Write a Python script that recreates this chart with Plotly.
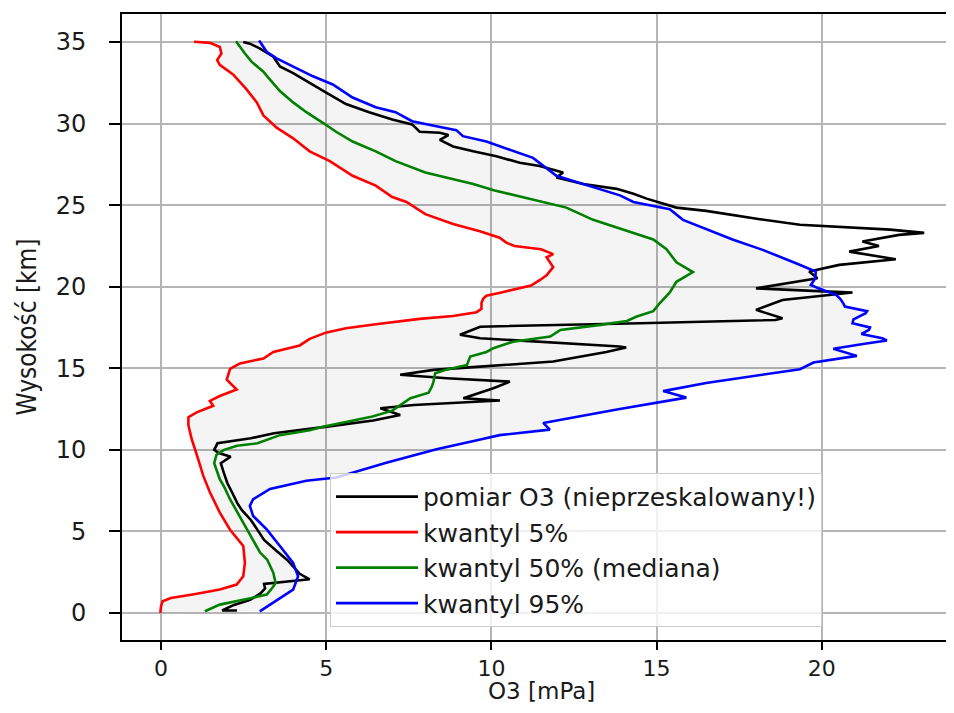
import plotly.graph_objects as go

# ---- data ----
# 5% quantile (x = O3 [mPa], y = altitude [km])
q05_x = [-0.02, 0.0, 0.05, 0.3, 1.0, 1.78, 2.29, 2.49, 2.54, 2.49, 2.09, 1.78, 1.48, 1.28, 1.13,
         0.93, 0.83, 0.83, 1.08, 1.58, 1.48, 1.78, 2.29, 1.99, 2.09, 2.39, 3.1, 3.4, 4.2, 4.5,
         5.01, 5.6, 6.5, 7.83, 8.84, 9.55, 9.7, 9.7, 9.75, 9.85, 10.3, 10.76, 11.2, 11.46, 11.67,
         11.87, 11.67, 11.87, 11.5, 10.7, 10.45, 10.25, 9.65, 8.84, 8.0, 7.43, 7.0, 6.5, 5.8, 5.11,
         4.5, 4.0, 3.5, 3.1, 2.9, 2.59, 2.19, 1.78, 1.70, 1.83, 1.78, 1.48, 1.0]
q05_y = [0.0, 0.4, 0.72, 0.92, 1.15, 1.43, 1.74, 2.25, 3.07, 4.1, 5.1, 6.15, 7.4, 8.4, 9.4,
         10.65, 11.5, 12.0, 12.3, 12.7, 13.0, 13.3, 13.7, 14.3, 14.96, 15.3, 15.6, 16.0, 16.4, 16.8,
         17.2, 17.45, 17.7, 18.03, 18.2, 18.44, 18.65, 19.0, 19.26, 19.45, 19.65, 19.85, 20.07, 20.4, 20.7,
         21.2, 21.8, 22.0, 22.3, 22.5, 22.7, 23.0, 23.4, 23.85, 24.45, 25.2, 25.5, 26.2, 26.8, 27.7,
         28.3, 29.1, 29.75, 30.5, 31.3, 32.1, 33.0, 33.6, 33.9, 34.3, 34.7, 34.95, 35.02]

# 50% quantile (median)
q50_x = [1.33, 1.78, 2.75, 3.2, 3.32, 3.47, 3.4, 3.22, 3.0, 2.55, 2.09, 1.91, 1.78, 1.61, 1.68,
         1.91, 2.3, 2.92, 3.6, 4.5, 4.9, 5.6, 6.4, 7.0, 7.23, 7.55, 8.1, 8.2, 8.25, 8.3,
         8.6, 9.26, 9.36, 9.85, 10.06, 10.66, 11.78, 12.09, 13.3, 14.1, 14.4, 14.9, 15.1, 15.4, 15.6,
         16.1, 15.6, 15.3, 14.9, 13.99, 13.08, 12.27, 11.26, 10.1, 9.45, 8.84, 8.0, 7.1, 6.5, 5.8,
         5.3, 4.9, 4.4, 4.0, 3.6, 3.3, 3.09, 2.74, 2.54, 2.27]
q50_y = [0.1, 0.51, 0.92, 1.13, 1.41, 1.82, 2.46, 3.25, 3.7, 5.3, 6.97, 7.74, 8.2, 9.18, 9.7,
         10.0, 10.25, 10.4, 10.9, 11.2, 11.42, 11.7, 12.04, 12.4, 12.7, 13.16, 13.5, 13.88, 14.2, 14.7,
         14.9, 15.2, 15.72, 16.0, 16.23, 16.63, 16.94, 17.35, 17.66, 17.9, 18.17, 18.5, 19.0, 19.65, 20.3,
         20.9, 21.5, 22.3, 22.9, 23.5, 24.1, 24.85, 25.36, 25.9, 26.3, 26.6, 27.0, 27.7, 28.3, 28.9,
         29.5, 30.05, 30.7, 31.3, 32.0, 32.7, 33.2, 33.8, 34.3, 35.05]

# 95% quantile
q95_x = [2.99, 3.3, 3.6, 4.0, 4.15, 4.0, 3.6, 3.2, 2.79, 2.69, 2.79, 3.3, 4.4, 5.31, 6.82,
         8.34, 9.6, 10.25, 11.77, 11.57, 13.8, 15.9, 15.2, 16.5, 19.34, 19.75, 21.06, 20.35, 21.3, 21.97,
         21.83, 21.2, 21.43, 21.46, 20.93, 20.96, 21.33, 21.37, 20.7, 20.66, 20.56, 20.43, 19.9, 19.67, 19.8,
         19.82, 19.22, 18.21, 17.3, 15.8, 15.4, 14.3, 13.89, 12.78, 11.97, 11.26, 10.45, 9.85, 9.14, 8.94,
         8.3, 7.6, 7.1, 6.5, 5.8, 5.2, 4.6, 4.0, 3.5, 3.2, 2.97]
q95_y = [0.1, 0.5, 0.92, 1.43, 2.25, 3.07, 4.1, 5.12, 5.94, 6.56, 6.97, 7.6, 8.1, 8.3, 9.2,
         10.04, 10.6, 10.9, 11.24, 11.65, 12.47, 13.2, 13.6, 14.1, 14.94, 15.35, 15.76, 16.2, 16.5, 16.7,
         16.84, 17.1, 17.35, 17.5, 17.76, 18.0, 18.38, 18.5, 18.78, 18.95, 19.26, 19.5, 19.9, 20.11, 20.5,
         20.93, 21.44, 22.26, 22.9, 24.1, 24.75, 25.2, 25.6, 26.3, 26.8, 27.9, 28.5, 28.9, 29.23, 29.6,
         29.85, 30.15, 30.7, 31.0, 31.6, 32.4, 32.9, 33.5, 34.0, 34.4, 35.1]

# measured O3 profile
meas_x = [2.3, 1.85, 2.21, 2.7, 3.02, 3.15, 3.12, 4.5, 4.2, 3.82, 3.5, 3.12, 2.95, 2.72, 2.45,
          2.31, 2.15, 2.01, 1.9, 1.81, 2.11, 1.75, 1.61, 1.71, 2.72, 3.42, 5.03, 6.42, 7.24, 6.64,
          7.65, 10.26, 9.15, 10.06, 10.56, 8.65, 7.24, 8.25, 9.66, 11.87, 13.48, 14.08, 13.88, 9.66, 9.05,
          9.66, 14.5, 18.6, 18.81, 18.01, 18.81, 20.93, 18.01, 19.87, 19.62, 20.53, 22.24, 20.83, 21.73, 21.23,
          22.34, 23.1, 22.07, 20.35, 19.34, 18.13, 16.5, 15.6, 14.7, 14.3, 13.79, 12.78, 11.97, 12.17, 11.46,
          10.86, 10.15, 9.45, 8.84, 8.44, 8.7, 8.44, 7.83, 7.6, 7.0, 6.3, 5.6, 5.0, 4.5, 4.0,
          3.6, 3.4, 3.0, 2.69, 2.49]
meas_y = [0.15, 0.15, 0.49, 0.8, 1.21, 1.5, 1.78, 2.06, 2.4, 3.25, 3.8, 4.48, 5.0, 5.7, 6.3,
          6.73, 7.4, 7.95, 8.6, 9.18, 9.58, 9.8, 10.0, 10.4, 10.71, 11.02, 11.42, 11.8, 12.14, 12.55,
          12.75, 13.02, 13.16, 13.78, 14.18, 14.39, 14.6, 14.9, 15.1, 15.41, 16.0, 16.27, 16.33, 16.84, 17.05,
          17.55, 17.76, 17.96, 18.07, 18.58, 19.19, 19.64, 19.9, 20.52, 20.93, 21.34, 21.68, 22.15, 22.5, 22.77,
          23.18, 23.3, 23.5, 23.7, 23.8, 24.14, 24.65, 24.85, 25.4, 25.7, 26.0, 26.3, 26.7, 27.0, 27.4,
          27.6, 28.0, 28.3, 28.6, 29.0, 29.3, 29.44, 29.5, 29.95, 30.25, 30.7, 31.2, 31.9, 32.5, 33.1,
          33.5, 34.1, 34.6, 34.9, 35.0]

x_ticks = [0, 5, 10, 15, 20]
y_ticks = [0, 5, 10, 15, 20, 25, 30, 35]

names = ["pomiar O3 (nieprzeskalowany!)", "kwantyl 5%", "kwantyl 50% (mediana)", "kwantyl 95%"]
x_title = "O3 [mPa]"
y_title = "Wysokość [km]"

FONT = "DejaVu Sans, Verdana, sans-serif"
LW = 2.6

fig = go.Figure()

# shaded band between 5% and 95% quantiles
fig.add_trace(go.Scatter(
    x=q05_x + q95_x[::-1], y=q05_y + q95_y[::-1],
    mode="lines", fill="toself", fillcolor="rgba(0,0,0,0.045)",
    line=dict(width=0, color="rgba(0,0,0,0)"), hoverinfo="skip", showlegend=False))

fig.add_trace(go.Scatter(x=meas_x, y=meas_y, mode="lines", name=names[0],
                         line=dict(color="black", width=LW)))
fig.add_trace(go.Scatter(x=q05_x, y=q05_y, mode="lines", name=names[1],
                         line=dict(color="#ff0000", width=LW)))
fig.add_trace(go.Scatter(x=q50_x, y=q50_y, mode="lines", name=names[2],
                         line=dict(color="#008000", width=LW)))
fig.add_trace(go.Scatter(x=q95_x, y=q95_y, mode="lines", name=names[3],
                         line=dict(color="#0000ff", width=LW)))

# The page body adds an 8 px offset; figure is sized so nothing overflows the window.
fig.update_layout(
    width=938, height=697,
    margin=dict(l=114, r=0, t=6, b=65, autoexpand=False),
    paper_bgcolor="white", plot_bgcolor="white",
    font=dict(family=FONT, size=24, color="#1a1a1a"),
    showlegend=True,
    legend=dict(
        x=0.2524, y=0.021, xanchor="left", yanchor="bottom",
        bgcolor="rgba(255,255,255,0.8)", bordercolor="#cccccc", borderwidth=1,
        font=dict(family=FONT, size=25, color="#1a1a1a"),
        itemwidth=82, tracegroupgap=0,
    ),
    xaxis=dict(
        range=[-1.18, 23.76], tickvals=x_ticks, ticktext=[str(v) for v in x_ticks],
        showgrid=True, gridcolor="#b5b5b5", gridwidth=1.6, zeroline=False,
        showline=True, linecolor="black", linewidth=1.6, mirror=True,
        ticks="outside", ticklen=8, tickwidth=1.5, tickcolor="black",
        tickfont=dict(size=22), ticklabelstandoff=0, automargin=False,
    ),
    yaxis=dict(
        range=[-1.66, 36.72], tickvals=y_ticks, ticktext=[str(v) for v in y_ticks],
        showgrid=True, gridcolor="#b5b5b5", gridwidth=1.6, zeroline=False,
        showline=True, linecolor="black", linewidth=1.6, mirror=False,
        ticks="outside", ticklen=11, tickwidth=1.5, tickcolor="black",
        tickfont=dict(size=24), ticklabelstandoff=18, automargin=False,
        title=dict(text=y_title,
                   font=dict(family="DejaVu Sans Condensed, Liberation Sans Narrow, Roboto Condensed, DejaVu Sans",
                             size=26), standoff=12),
    ),
    annotations=[dict(
        text=x_title, xref="paper", yref="paper", x=0.5085, y=-0.0815,
        xanchor="center", yanchor="middle", showarrow=False,
        font=dict(family=FONT, size=23, color="#1a1a1a"),
    )],
)

fig.write_html("out.html")
